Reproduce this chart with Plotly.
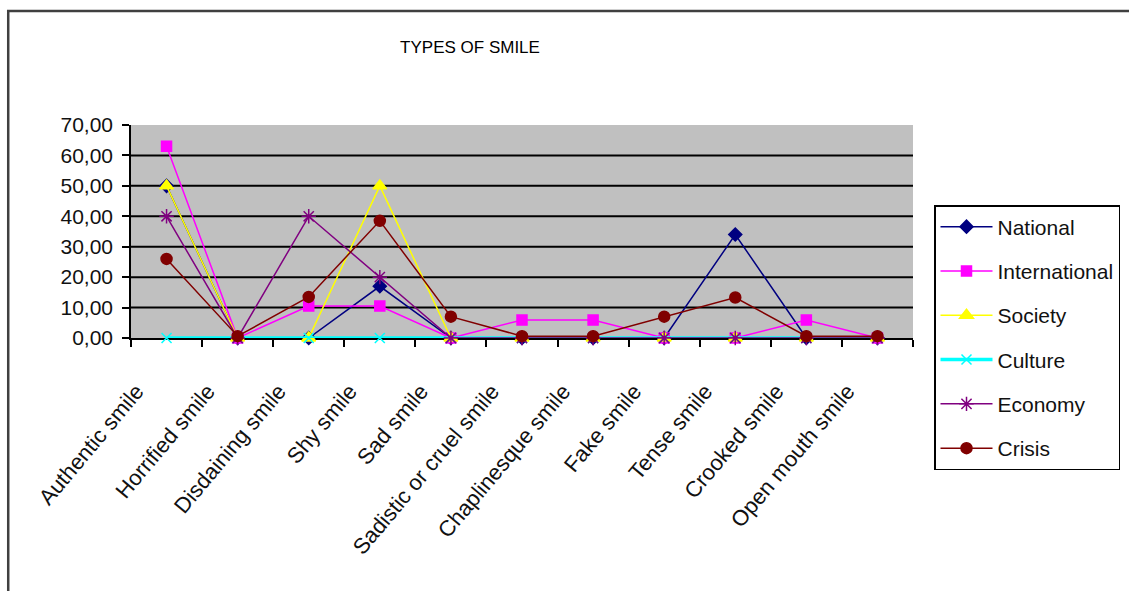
import plotly.graph_objects as go

# Smile categories on the x axis
categories = [
    "Authentic smile", "Horrified smile", "Disdaining smile", "Shy smile",
    "Sad smile", "Sadistic or cruel smile", "Chaplinesque smile",
    "Fake smile", "Tense smile", "Crooked smile", "Open mouth smile",
]

# Percentages per source type
national      = [50, 0, 0, 17, 0, 0, 0, 0, 34, 0, 0]
international = [63, 0, 10.5, 10.5, 0, 5.9, 5.9, 0, 0, 5.9, 0]
society       = [50, 0, 0, 50, 0, 0, 0, 0, 0, 0, 0]
culture       = [0, 0, 0, 0, 0, 0, 0, 0, 0, 0, 0]
economy       = [40, 0, 40, 20, 0, 0, 0, 0, 0, 0, 0]
crisis        = [26, 0.6, 13.5, 38.5, 7, 0.6, 0.6, 7, 13.3, 0.6, 0.6]

y_ticks = [0, 10, 20, 30, 40, 50, 60, 70]

series = [
    ("National", national, "#000080", "diamond", 10),
    ("International", international, "#FF00FF", "square", 10),
    ("Society", society, "#FFFF00", "triangle-up", 12),
    ("Culture", culture, "#00FFFF", "x-thin-open", 10),
    ("Economy", economy, "#800080", "asterisk-open", 12),
    ("Crisis", crisis, "#800000", "circle", 11),
]

FONT = "Liberation Sans, Arial, sans-serif"

fig = go.Figure()
for name, vals, color, symbol, size in series:
    fig.add_trace(go.Scatter(
        x=categories, y=vals, name=name, mode="lines+markers",
        legendgroup=name, cliponaxis=False,
        line=dict(color=color, width=3.5 if name == "Culture" else 1.5),
        marker=dict(symbol=symbol, size=size, color=color,
                    line=dict(color=color, width=1.5)),
    ))

# Black horizontal gridlines inside the grey plot area (none on the top edge)
for v in y_ticks[1:-1]:
    fig.add_shape(type="line", xref="paper", x0=0, x1=1, yref="y", y0=v, y1=v,
                  line=dict(color="black", width=2), layer="below")

# Outer chart border
fig.add_shape(type="rect", xref="paper", yref="paper",
              x0=-0.157, x1=1.6, y0=-1.5, y1=1.535,
              line=dict(color="#404040", width=2.5), layer="below")

fig.update_layout(
    width=1129, height=591,
    margin=dict(l=131, r=216, t=125, b=253, autoexpand=False),
    paper_bgcolor="white",
    plot_bgcolor="#C0C0C0",
    separators=",.",
    font=dict(family=FONT, color="black", size=21),
    title=dict(text="TYPES OF SMILE", x=470 / 1129, xanchor="center",
               y=1 - 47 / 591, yanchor="middle",
               font=dict(family=FONT, size=17, color="black")),
    showlegend=True,
    legend=dict(
        x=(934 - 131) / 782, xanchor="left",
        y=(338 - 205) / 213, yanchor="top",
        bgcolor="white", bordercolor="black", borderwidth=1.5,
        font=dict(family=FONT, size=21, color="#111111"),
        tracegroupgap=14, itemwidth=52, maxheight=500,
    ),
    xaxis=dict(
        type="category", range=[-0.5, len(categories) - 0.5],
        tickson="boundaries", ticks="outside", ticklen=7, tickwidth=1.5,
        tickcolor="black", showline=True, linecolor="black", linewidth=1.5,
        showgrid=False, tickangle=-50, layer="below traces", automargin=False,
        ticklabelstandoff=30, ticklabelshift=-30,
        tickfont=dict(family=FONT, size=22, color="#111111"),
    ),
    yaxis=dict(
        range=[0, 70], tickvals=y_ticks, tickformat=".2f",
        ticks="outside", ticklen=7, tickwidth=1.5, tickcolor="black",
        showline=True, linecolor="black", linewidth=1.5, automargin=False,
        showgrid=False, zeroline=False, ticklabelstandoff=5,
        tickfont=dict(family=FONT, size=21, color="#111111"),
    ),
)

fig.write_html("out.html")
